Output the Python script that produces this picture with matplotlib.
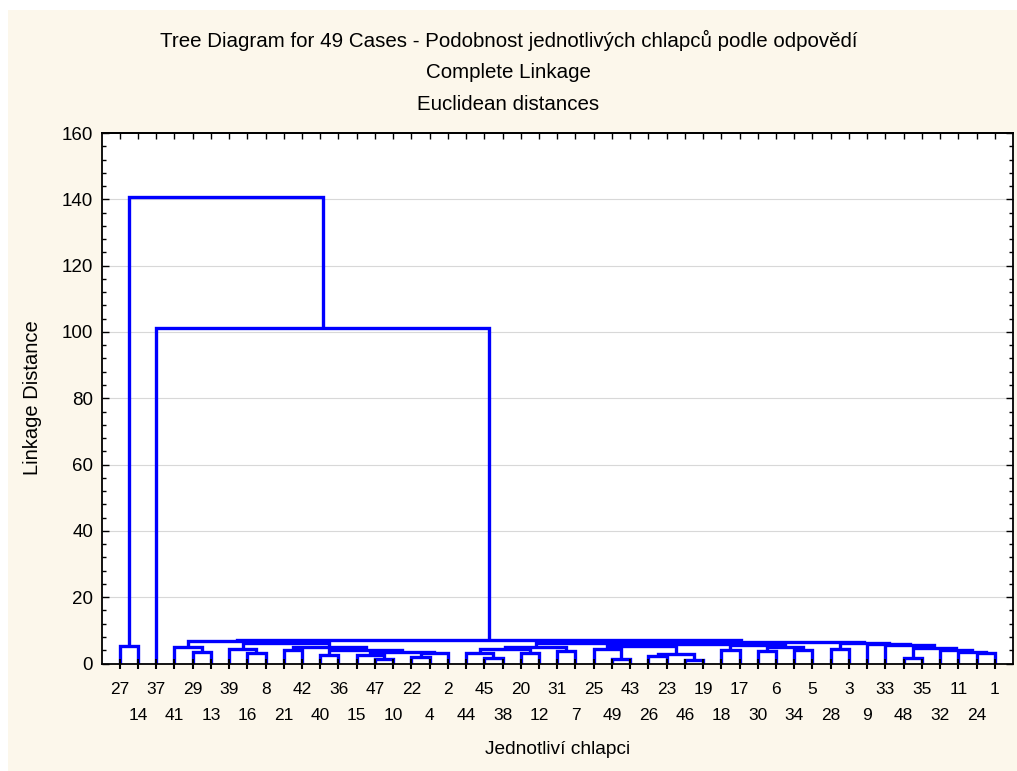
import matplotlib
matplotlib.use("Agg")
import matplotlib.pyplot as plt
from matplotlib.patches import Rectangle
from matplotlib.ticker import MultipleLocator

plt.rcParams['font.family'] = ['Liberation Sans', 'DejaVu Sans']

# leaf order along the x axis
leaf_labels = [27, 14, 37, 41, 29, 13, 39, 16, 8, 21, 42, 40, 36, 15, 47, 10, 22, 4, 2,
               44, 45, 38, 20, 12, 31, 7, 25, 49, 43, 26, 23, 46, 19, 18, 17, 30, 6, 34,
               5, 28, 3, 9, 33, 48, 35, 32, 11, 24, 1]

# merges: (new cluster, left child, right child, linkage distance)
left_links = [
    ("c2714", 27, 14, 5.3),
    ("c2913", 29, 13, 3.6),
    ("A", 41, "c2913", 5.0),
    ("c168", 16, 8, 3.1),
    ("B", 39, "c168", 4.4),
    ("C", 21, 42, 4.0),
    ("D", 40, 36, 2.5),
    ("c4710", 47, 10, 1.3),
    ("E", 15, "c4710", 2.6),
    ("c224", 22, 4, 2.0),
    ("F", "c224", 2, 3.1),
    ("EF", "E", "F", 3.5),
    ("DEF", "D", "EF", 4.0),
    ("CDEF", "C", "DEF", 5.0),
    ("L", "B", "CDEF", 6.1),
    ("AL", "A", "L", 6.8),
]

right_links = [
    ("c4538", 45, 38, 1.7),
    ("G", 44, "c4538", 3.1),
    ("c2012", 20, 12, 3.3),
    ("G2", "G", "c2012", 4.3),
    ("c317", 31, 7, 3.7),
    ("H", "G2", "c317", 5.0),
    ("c4943", 49, 43, 1.5),
    ("I", 25, "c4943", 4.4),
    ("c2623", 26, 23, 2.2),
    ("c4619", 46, 19, 1.0),
    ("J", "c2623", "c4619", 2.9),
    ("K", "I", "J", 5.3),
    ("c1817", 18, 17, 4.2),
    ("c306", 30, 6, 3.8),
    ("c345", 34, 5, 4.1),
    ("M", "c306", "c345", 5.1),
    ("N", "c1817", "M", 5.5),
    ("KN", "K", "N", 5.9),
    ("P", "H", "KN", 6.2),
    ("c283", 28, 3, 4.3),
    ("c241", 24, 1, 3.1),
    ("S2", 11, "c241", 3.6),
    ("S3", 32, "S2", 4.1),
    ("c4835", 48, 35, 1.6),
    ("S4", "c4835", "S3", 4.6),
    ("S5", 33, "S4", 5.5),
    ("S6", 9, "S5", 5.8),
    ("Q", "c283", "S6", 6.1),
    ("Rr", "P", "Q", 6.5),
]

top_links = [
    ("Big", "AL", "Rr", 7.1),
    ("c37", 37, "Big", 101.2),
    ("root", "c2714", "c37", 140.8),
]

title_lines = ["Tree Diagram for 49 Cases - Podobnost jednotlivých chlapců podle odpovědí",
               "Complete Linkage",
               "Euclidean distances"]

W, H = 1017, 771
fig = plt.figure(figsize=(W / 100, H / 100), dpi=100)
fig.patch.set_facecolor('white')
fig.patches.append(Rectangle((8 / W, 0), 1, 1 - 10 / H, transform=fig.transFigure,
                             facecolor='#FCF7EB', edgecolor='none', zorder=-10))

ax_l, ax_r, ax_t, ax_b = 101.5, 1013, 133, 663.5
ax = fig.add_axes([ax_l / W, 1 - ax_b / H, (ax_r - ax_l) / W, (ax_b - ax_t) / H])
ax.set_facecolor('white')

pos = {lab: i + 1 for i, lab in enumerate(leaf_labels)}
hgt = {lab: 0.0 for lab in leaf_labels}

for name, a, b, d in left_links + right_links + top_links:
    x1, x2 = pos[a], pos[b]
    ax.plot([x1, x1, x2, x2], [hgt[a], d, d, hgt[b]], color='#0000FF', lw=2.4,
            solid_joinstyle='miter', solid_capstyle='butt', zorder=2)
    pos[name] = (x1 + x2) / 2
    hgt[name] = d

ax.set_xlim(0, len(leaf_labels) + 1)
ax.set_ylim(0, 160)

for g in range(20, 160, 20):
    ax.axhline(g, color='#D8D8D8', lw=0.8, zorder=0.5)
ax.set_axisbelow(False)

ax.yaxis.set_major_locator(MultipleLocator(20))
ax.yaxis.set_minor_locator(MultipleLocator(4))
ax.tick_params(axis='y', which='major', direction='in', length=5, width=1,
               right=True, labelsize=13.5, pad=6)
ax.tick_params(axis='y', which='minor', direction='in', length=3, width=1, right=True)

ax.set_xticks(range(1, len(leaf_labels) + 1))
ax.set_xticklabels([])
ax.tick_params(axis='x', which='major', direction='inout', length=7, width=1.5,
               top=False)
top = ax.secondary_xaxis('top')
top.set_xticks(range(1, len(leaf_labels) + 1))
top.set_xticklabels([])
top.tick_params(direction='in', length=4, width=1)

for i, lab in enumerate(leaf_labels):
    row_y = 689 if i % 2 == 0 else 716
    fig.text((ax_l + (ax_r - ax_l) * (i + 1) / (len(leaf_labels) + 1)) / W, 1 - row_y / H,
             str(lab), ha='center', va='center', fontsize=12.5)

for sp in ax.spines.values():
    sp.set_linewidth(1.3)
    sp.set_color('black')
top.spines['top'].set_linewidth(1.3)

for t, yy in zip(title_lines, [40, 72, 104]):
    fig.text(0.5, 1 - yy / H, t, ha='center', va='center', fontsize=14.8)

fig.text(33 / W, 1 - 398 / H, "Linkage Distance", rotation=90, ha='center', va='center',
         fontsize=14.5)
fig.text((ax_l + ax_r) / 2 / W, 1 - 749 / H, "Jednotliví chlapci", ha='center',
         va='center', fontsize=13.8)

fig.savefig('out.png', dpi=100, facecolor=fig.get_facecolor())
